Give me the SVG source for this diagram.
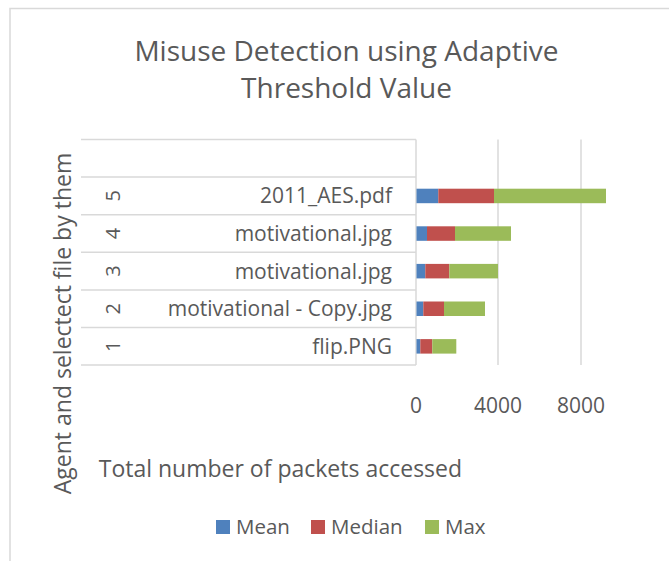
<svg xmlns="http://www.w3.org/2000/svg" width="669" height="561" viewBox="0 0 669 561">
<style>
text { font-family: "Open Sans", "Liberation Sans", sans-serif; fill: #595959; }
.grid { stroke: #d9d9d9; stroke-width: 1.5; fill: none; }
.mean { fill: #4F81BD; }
.median { fill: #C0504D; }
.max { fill: #9BBB59; }
.cat { font-size: 21px; text-anchor: end; }
.num { font-size: 20px; text-anchor: middle; }
.tick { font-size: 21px; text-anchor: middle; }
.leg { font-size: 20.5px; }
</style>
<rect x="0" y="0" width="669" height="561" fill="#ffffff"/>
<rect x="10" y="8.5" width="700" height="600" fill="none" stroke="#d9d9d9" stroke-width="1.5"/>

<g id="title">
<text x="346.5" y="61" font-size="28" text-anchor="middle">Misuse Detection using Adaptive</text>
<text x="346.5" y="98" font-size="28" text-anchor="middle">Threshold Value</text>
</g>

<g id="gridlines">
<line class="grid" x1="498" y1="139.5" x2="498" y2="365"/>
<line class="grid" x1="581" y1="139.5" x2="581" y2="365"/>
</g>

<g id="category-table">
<line class="grid" x1="81" y1="139.5" x2="416" y2="139.5"/>
<line class="grid" x1="81" y1="177.1" x2="416" y2="177.1"/>
<line class="grid" x1="81" y1="214.7" x2="416" y2="214.7"/>
<line class="grid" x1="81" y1="252.3" x2="416" y2="252.3"/>
<line class="grid" x1="81" y1="289.9" x2="416" y2="289.9"/>
<line class="grid" x1="81" y1="327.5" x2="416" y2="327.5"/>
<line class="grid" x1="81" y1="365" x2="416" y2="365"/>
<line class="grid" x1="416" y1="139.5" x2="416" y2="365"/>
</g>

<g id="cat-5">
<text class="num" transform="translate(120,195.9) rotate(-90)">5</text>
<text class="cat" x="392" y="203.3">2011_AES.pdf</text>
<rect class="mean" x="416.5" y="188.7" width="21.8" height="14.5"/>
<rect class="median" x="438.3" y="188.7" width="55.7" height="14.5"/>
<rect class="max" x="494" y="188.7" width="112" height="14.5"/>
</g>
<g id="cat-4">
<text class="num" transform="translate(120,233.5) rotate(-90)">4</text>
<text class="cat" x="392" y="240.9">motivational.jpg</text>
<rect class="mean" x="416.5" y="226.3" width="10.5" height="14.5"/>
<rect class="median" x="427" y="226.3" width="28" height="14.5"/>
<rect class="max" x="455" y="226.3" width="56" height="14.5"/>
</g>
<g id="cat-3">
<text class="num" transform="translate(120,271.1) rotate(-90)">3</text>
<text class="cat" x="392" y="278.5">motivational.jpg</text>
<rect class="mean" x="416.5" y="263.9" width="8.8" height="14.5"/>
<rect class="median" x="425.3" y="263.9" width="24" height="14.5"/>
<rect class="max" x="449.3" y="263.9" width="48.7" height="14.5"/>
</g>
<g id="cat-2">
<text class="num" transform="translate(120,308.7) rotate(-90)">2</text>
<text class="cat" x="392" y="316.1">motivational - Copy.jpg</text>
<rect class="mean" x="416.5" y="301.5" width="6.8" height="14.5"/>
<rect class="median" x="423.3" y="301.5" width="20.7" height="14.5"/>
<rect class="max" x="444" y="301.5" width="41" height="14.5"/>
</g>
<g id="cat-1">
<text class="num" transform="translate(120,346.3) rotate(-90)">1</text>
<text class="cat" x="392" y="353.7">flip.PNG</text>
<rect class="mean" x="416.5" y="339.1" width="3.8" height="14.5"/>
<rect class="median" x="420.3" y="339.1" width="12" height="14.5"/>
<rect class="max" x="432.3" y="339.1" width="24" height="14.5"/>
</g>

<g id="x-axis">
<text class="tick" x="416" y="413">0</text>
<text class="tick" x="498" y="413">4000</text>
<text class="tick" x="581" y="413">8000</text>
<text x="280.4" y="477" font-size="23" text-anchor="middle">Total number of packets accessed</text>
</g>

<g id="y-axis">
<text transform="translate(71,323.5) rotate(-90)" font-size="23" text-anchor="middle">Agent and selectect file by them</text>
</g>

<g id="legend">
<rect class="mean" x="216" y="520" width="14" height="14"/>
<text class="leg" x="236" y="534">Mean</text>
<rect class="median" x="311" y="520" width="14" height="14"/>
<text class="leg" x="331" y="534">Median</text>
<rect class="max" x="425" y="520" width="14" height="14"/>
<text class="leg" x="445" y="534">Max</text>
</g>
</svg>
